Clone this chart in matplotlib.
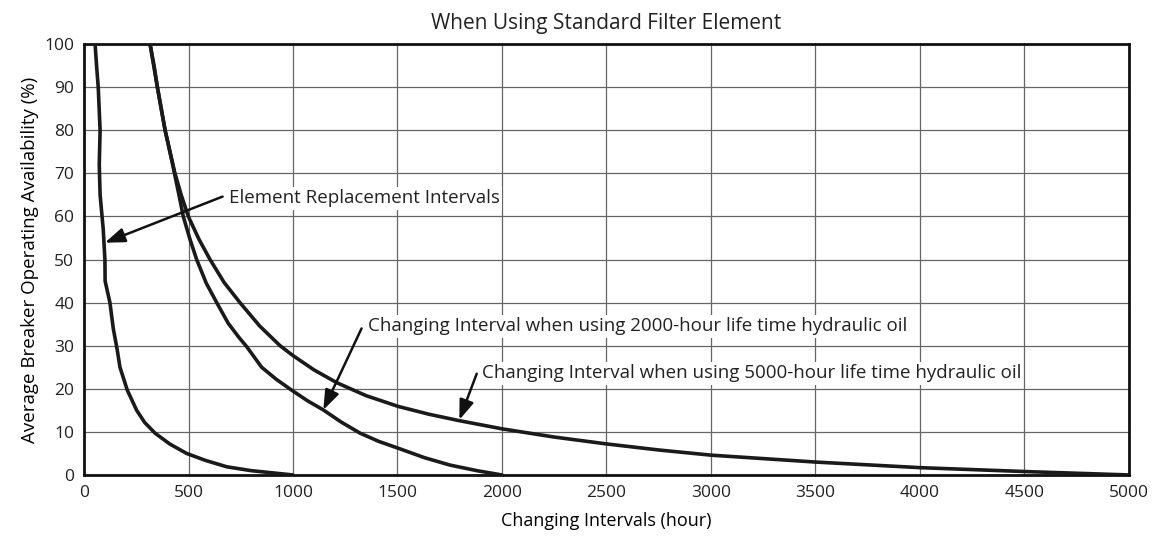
import matplotlib.pyplot as plt

# Element replacement interval curve
elem_hours = [53, 60, 68, 77, 73, 77, 92, 100, 101, 124, 140, 159, 172, 207, 252, 290, 340, 410, 491, 580, 683, 800, 1000]
elem_avail = [100, 95, 90, 80, 72, 65, 57, 50, 45, 40, 34, 29, 25, 19.7, 15, 12.2, 9.7, 7.2, 5, 3.4, 1.9, 1.0, 0]

# 2000-hour hydraulic oil curve
oil2000_hours = [316, 351, 388, 420, 450, 475, 505, 539, 585, 635, 690, 740, 778, 850, 920, 993,
                 1070, 1145, 1230, 1321, 1410, 1504, 1630, 1751, 1880, 2000]
oil2000_avail = [100, 90, 80, 73, 66, 60, 55, 50, 44.5, 40, 35.2, 32, 29.8, 25, 22.2, 19.7,
                 17.2, 15.1, 12.3, 9.7, 7.8, 6.2, 4.0, 2.3, 1.0, 0]

# 5000-hour hydraulic oil curve
oil5000_hours = [316, 335, 351, 388, 435, 465, 499, 550, 603, 670, 746, 840, 938, 1000, 1100, 1210,
                 1350, 1504, 1650, 1796, 2001, 2250, 2501, 2750, 3000, 3500, 4000, 4500, 5000]
oil5000_avail = [100, 95, 90, 80, 70, 65, 60, 54.7, 50, 44.7, 40, 34.6, 30, 27.7, 24.4, 21.4,
                 18.4, 15.9, 14.1, 12.6, 10.7, 8.8, 7.2, 5.8, 4.6, 3.0, 1.7, 0.8, 0]

x_ticks = list(range(0, 5001, 500))
y_ticks = list(range(0, 101, 10))

plt.rcParams['font.family'] = ['Open Sans', 'DejaVu Sans']
plt.rcParams['text.color'] = '#222222'

fig = plt.figure(figsize=(11.54, 5.37), dpi=100)
ax = fig.add_axes([0.0728, 0.1155, 0.9055, 0.8025])

for hrs, av in [(elem_hours, elem_avail), (oil2000_hours, oil2000_avail), (oil5000_hours, oil5000_avail)]:
    ax.plot(hrs, av, color='#1a1a1a', lw=2.6, solid_capstyle='round', solid_joinstyle='round', zorder=3)

ax.set_xlim(0, 5000)
ax.set_ylim(0, 100)
ax.set_xticks(x_ticks)
ax.set_yticks(y_ticks)
ax.tick_params(length=0, labelsize=12.5, pad=7, labelcolor='#222222')
ax.grid(True, color='#666666', lw=0.9)
ax.set_axisbelow(True)
for s in ax.spines.values():
    s.set_linewidth(2)
    s.set_color('#111111')

ax.set_xlabel('Changing Intervals (hour)', fontsize=13, labelpad=8)
ax.set_ylabel('Average Breaker Operating Availability (%)', fontsize=13.5, labelpad=4)
ax.set_title('When Using Standard Filter Element', fontsize=15, pad=11)

# labels with white backing, arrows drawn separately
box = dict(facecolor='white', edgecolor='none', pad=1.5)
arrow = dict(arrowstyle='-|>,head_length=0.6,head_width=0.22', color='#111111', lw=1.8,
             shrinkA=0, shrinkB=0, mutation_scale=20)

labels = ['Element Replacement Intervals',
          'Changing Interval when using 2000-hour life time hydraulic oil',
          'Changing Interval when using 5000-hour life time hydraulic oil']
label_pos = [(694, 63.0), (1359, 33.3), (1904, 22.4)]
arrow_tail = [(663, 64.6), (1328, 34.0), (1879, 23.5)]
arrow_head = [(100, 53.9), (1145, 15.1), (1796, 12.8)]

for txt, (tx, ty), tail, head in zip(labels, label_pos, arrow_tail, arrow_head):
    ax.text(tx, ty, txt, fontsize=13.5, ha='left', va='baseline', bbox=box, zorder=4)
    ax.annotate('', xy=head, xytext=tail, arrowprops=arrow, zorder=5)

fig.savefig('out.png', dpi=100)
